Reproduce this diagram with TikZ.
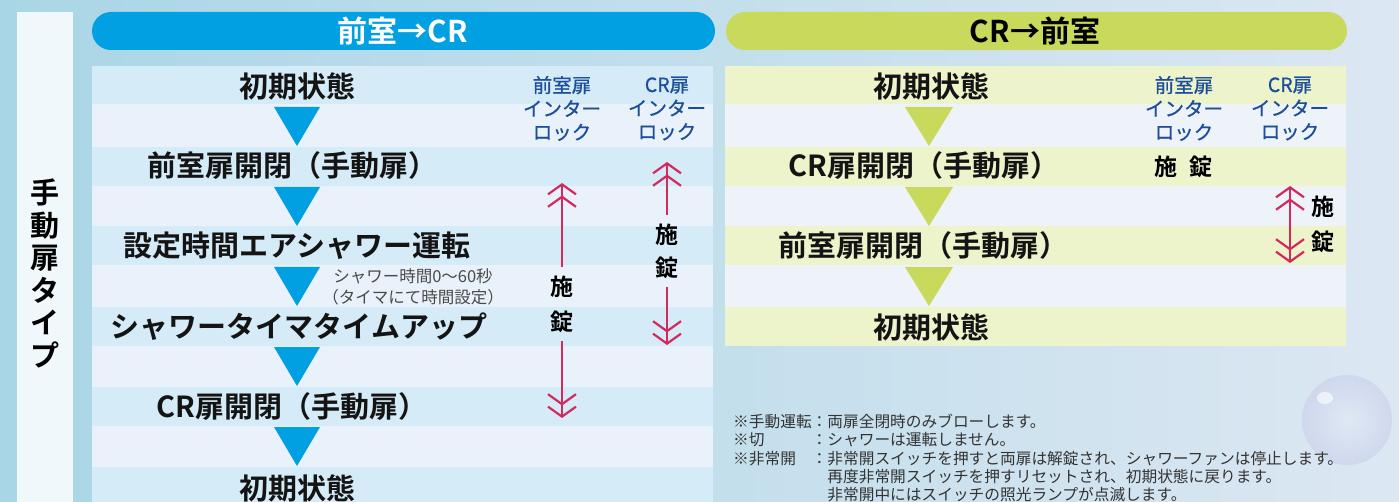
\documentclass[tikz,border=0pt]{standalone}
\usepackage{fontspec}
\setmainfont{Noto Sans CJK JP}[BoldFont={* Bold}]
\newfontfamily\jpmid{Noto Sans CJK JP}[FakeBold=0.7]
\usepackage{xcolor}
\usepackage{tikz}
\usetikzlibrary{arrows.meta,calc,shadings}

\definecolor{bgleft}{HTML}{A9D6E6}
\definecolor{bgright}{HTML}{DCE7F2}
\definecolor{stripcol}{HTML}{F1F8FB}
\definecolor{barblue}{HTML}{00A0E3}
\definecolor{bargreen}{HTML}{C9D95B}
\definecolor{bandblue}{HTML}{D5ECF8}
\definecolor{paleblue}{HTML}{E9F2FA}
\definecolor{bandgreen}{HTML}{EDF3CA}
\definecolor{palegreen}{HTML}{EEF3F9}
\definecolor{lockblue}{HTML}{1C4E9A}
\definecolor{lockred}{HTML}{D22A5C}
\definecolor{notegray}{HTML}{4A4A4A}
\definecolor{bubblerim}{HTML}{B9B6E6}

\begin{document}
\begin{tikzpicture}[x=1pt,y=-1pt]
        % Define the styles
        \tikzstyle{state text}=[font=\fontsize{29}{31}\selectfont\bfseries, text=black!92, inner sep=0pt];
        \tikzstyle{head text}=[font=\fontsize{30}{32}\selectfont\bfseries, inner sep=0pt];
        \tikzstyle{lock head}=[font=\fontsize{19.5}{23.5}\jpmid\selectfont, text=lockblue, align=center, inner sep=0pt];
        \tikzstyle{lock text}=[font=\fontsize{23}{35}\selectfont\bfseries, align=center, inner sep=8pt];
        \tikzstyle{lock arrow}=[draw=lockred, line width=2.2pt, {Straight Barb[length=10pt,width=28pt,sep=0pt]Straight Barb[length=10pt,width=28pt]}-];
        \tikzstyle{flow blue}=[fill=barblue];
        \tikzstyle{flow green}=[fill=bargreen];

        % Fix the size of the picture
        \useasboundingbox (0,0) rectangle (1399,502);

        % Background and bubble
        \shade[left color=bgleft, right color=bgright] (0,0) rectangle (1399,502);
        \shade[inner color=bgright!60!white, outer color=bubblerim, opacity=.3] (1347,420) circle (45);
        \fill[white, opacity=.6] (1325,398) ellipse (8 and 6);

        % Side strip with the type name
        \fill[stripcol] (17,12) rectangle (73,502);
        \node[font=\fontsize{29}{32.6}\selectfont\bfseries, align=center, inner sep=0pt] (typename) at (45,273.5) {手\\動\\扉\\タ\\イ\\プ};

        % Header bars
        \fill[barblue, rounded corners=19] (92,12) rectangle (715,50);
        \node[head text, text=white] (headA) at (403,31) {前室→CR};
        \fill[bargreen, rounded corners=19] (726,12) rectangle (1347,50);
        \node[head text, text=black] (headB) at (1035,31) {CR→前室};

        % Bands of the left table
        \fill[paleblue] (92,66) rectangle (713,502);
        \fill[bandblue] (92,66) rectangle (713,104);
        \fill[bandblue] (92,147) rectangle (713,186);
        \fill[bandblue] (92,226) rectangle (713,265);
        \fill[bandblue] (92,307) rectangle (713,346);
        \fill[bandblue] (92,387) rectangle (713,426);
        \fill[bandblue] (92,467) rectangle (713,502);

        % Bands of the right table
        \fill[palegreen] (725,66) rectangle (1346,346);
        \fill[bandgreen] (725,66) rectangle (1346,104);
        \fill[bandgreen] (725,147) rectangle (1346,186);
        \fill[bandgreen] (725,226) rectangle (1346,265);
        \fill[bandgreen] (725,307) rectangle (1346,346);

        % States, anteroom to CR
        \node[state text] (ls1) at (297,86) {初期状態};
        \node[state text] (ls2) at (292,166) {前室扉開閉（手動扉）};
        \node[state text] (ls3) at (297,246) {設定時間エアシャワー運転};
        \node[state text] (ls4) at (299,327) {シャワータイマタイムアップ};
        \node[state text] (ls5) at (292,407) {CR扉開閉（手動扉）};
        \node[state text] (ls6) at (297,488) {初期状態};

        % Flow marks, anteroom to CR
        \fill[flow blue] (274,107) -- (320,107) -- (297,146) -- cycle;
        \fill[flow blue] (274,187) -- (320,187) -- (297,226) -- cycle;
        \fill[flow blue] (274,267) -- (320,267) -- (297,306) -- cycle;
        \fill[flow blue] (274,347) -- (320,347) -- (297,386) -- cycle;
        \fill[flow blue] (274,427) -- (320,427) -- (297,466) -- cycle;

        % Timer note
        \node[font=\fontsize{16.5}{21}\selectfont, text=notegray, align=center, inner sep=0pt] (timernote) at (413,287) {シャワー時間0～60秒\\（タイマにて時間設定）};

        % Interlock columns, anteroom to CR
        \node[lock head] (ilA) at (562,108.5) {前室扉\\インター\\ロック};
        \node[lock head] (ilB) at (667,108.5) {CR扉\\インター\\ロック};

        \coordinate (lockAtop) at (562,183);
        \coordinate (lockAbot) at (562,418);
        \node[lock text] (lockA) at (562,304) {施\\錠};
        \draw[lock arrow] (lockAtop) -- (lockA);
        \draw[lock arrow] (lockAbot) -- (lockA);

        \coordinate (lockBtop) at (667,162);
        \coordinate (lockBbot) at (667,345);
        \node[lock text, font=\fontsize{23}{33}\selectfont\bfseries] (lockB) at (667,251) {施\\錠};
        \draw[lock arrow] (lockBtop) -- (lockB);
        \draw[lock arrow] (lockBbot) -- (lockB);

        % States, CR to anteroom
        \node[state text] (rs1) at (931,86) {初期状態};
        \node[state text] (rs2) at (924,166) {CR扉開閉（手動扉）};
        \node[state text] (rs3) at (923,246) {前室扉開閉（手動扉）};
        \node[state text] (rs4) at (931,327) {初期状態};

        % Flow marks, CR to anteroom
        \fill[flow green] (905,107) -- (953,107) -- (929,146) -- cycle;
        \fill[flow green] (905,187) -- (953,187) -- (929,226) -- cycle;
        \fill[flow green] (905,267) -- (953,267) -- (929,306) -- cycle;

        % Interlock columns, CR to anteroom
        \node[lock head] (ilC) at (1184,108.5) {前室扉\\インター\\ロック};
        \node[lock head] (ilD) at (1290,108.5) {CR扉\\インター\\ロック};
        \node[lock text, inner sep=0pt] (lockC) at (1183,167) {施\hspace{12pt}錠};

        \coordinate (lockDtop) at (1290,186);
        \coordinate (lockDbot) at (1290,263);
        \draw[lock arrow, {Straight Barb[length=10pt,width=28pt,sep=0pt]Straight Barb[length=10pt,width=28pt]}-{Straight Barb[length=10pt,width=28pt,sep=0pt]Straight Barb[length=10pt,width=28pt]}] (lockDtop) -- (lockDbot);
        \node[lock text, inner sep=0pt] (lockD) at (1323,224.5) {施\\錠};

        % Notes
        \node[font=\fontsize{15.7}{18.3}\selectfont, text=black!80, align=left, anchor=west, inner sep=0pt] (notes) at (733,458) {%
            ※手動運転：両扉全閉時のみブローします。\\
            ※切　　　：シャワーは運転しません。\\
            ※非常開　：非常開スイッチを押すと両扉は解錠され、シャワーファンは停止します。\\
            　　　　　　再度非常開スイッチを押すリセットされ、初期状態に戻ります。\\
            　　　　　　非常開中にはスイッチの照光ランプが点滅します。};

    \end{tikzpicture}
\end{document}
